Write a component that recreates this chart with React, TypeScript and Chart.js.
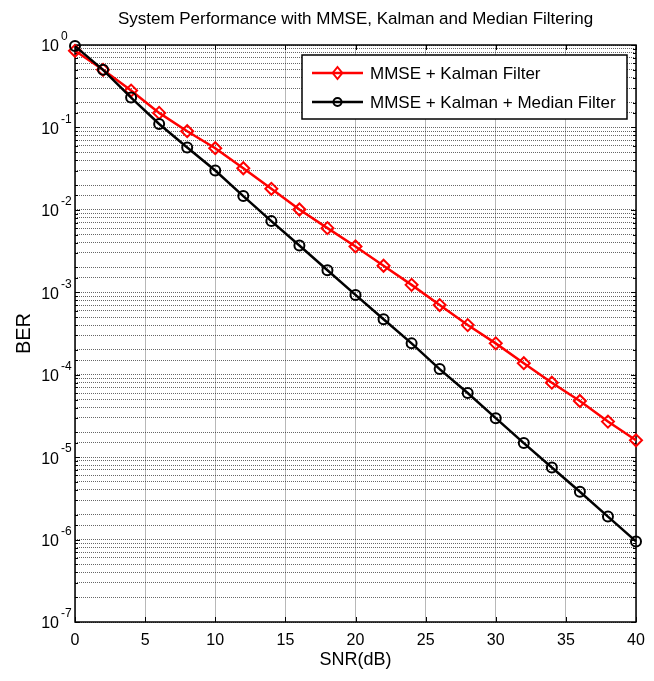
import React, { useEffect, useRef } from 'react';
import { Chart, registerables } from 'chart.js';

Chart.register(...registerables);

// ---- data ----
const snrDb = [0, 2, 4, 6, 8, 10, 12, 14, 16, 18, 20, 22, 24, 26, 28, 30, 32, 34, 36, 38, 40];
const berKalman = [
  0.85, 0.5, 0.28, 0.15, 0.09, 0.056, 0.032, 0.018, 0.0101, 0.006, 0.0036,
  0.0021, 0.00123, 0.0007, 0.0004, 0.00024, 0.000138, 0.00008, 0.000048, 0.000027, 0.000016,
];
const berKalmanMedian = [
  0.97, 0.5, 0.23, 0.11, 0.057, 0.03, 0.0147, 0.0073, 0.0037, 0.00185, 0.00093,
  0.00047, 0.00024, 0.000117, 0.00006, 0.0000297, 0.0000148, 0.0000075, 0.0000038, 0.0000019, 0.00000095,
];
const seriesLabels = ['MMSE + Kalman Filter', 'MMSE + Kalman + Median Filter'];
const titleText = 'System Performance with MMSE, Kalman and Median Filtering';
const xTitle = 'SNR(dB)';
const yTitle = 'BER';
const xTickStep = 5;
const yTickBase = '10';

const FONT = "'Liberation Sans', Arial, Helvetica, sans-serif";

const isDecade = (v: number) => {
  const e = Math.log10(v);
  return Math.abs(e - Math.round(e)) < 1e-9;
};

const boxPlugin = {
  id: 'matlabBox',
  beforeDatasetsDraw(chart: any) {
    const { ctx, chartArea: a, scales } = chart;
    ctx.save();
    ctx.strokeStyle = '#000';
    ctx.lineWidth = 1;
    const ys = scales.y;
    ys.ticks.forEach((t: any) => {
      const py = Math.round(ys.getPixelForValue(t.value)) + 0.5;
      const len = isDecade(t.value) ? 5 : 3;
      ctx.beginPath();
      ctx.moveTo(a.left, py); ctx.lineTo(a.left + len, py);
      ctx.moveTo(a.right, py); ctx.lineTo(a.right - len, py);
      ctx.stroke();
    });
    const xs = scales.x;
    xs.ticks.forEach((t: any) => {
      const px = Math.round(xs.getPixelForValue(t.value)) + 0.5;
      ctx.beginPath();
      ctx.moveTo(px, a.bottom); ctx.lineTo(px, a.bottom - 5);
      ctx.moveTo(px, a.top); ctx.lineTo(px, a.top + 5);
      ctx.stroke();
    });
    ctx.lineWidth = 1.5;
    ctx.strokeRect(a.left, a.top, a.right - a.left, a.bottom - a.top);
    ctx.restore();
  },
  afterDraw(chart: any) {
    // exponents of the "10" tick labels
    const { ctx, chartArea: a, scales } = chart;
    const ys = scales.y;
    ctx.save();
    ctx.fillStyle = '#000';
    ctx.font = `12px ${FONT}`;
    ctx.textAlign = 'left';
    ctx.textBaseline = 'middle';
    ys.ticks.forEach((t: any) => {
      if (!isDecade(t.value)) return;
      const py = ys.getPixelForValue(t.value);
      ctx.fillText(String(Math.round(Math.log10(t.value))), a.left - 14, py - 8);
    });
    ctx.restore();
  },
};

const legendPlugin = {
  id: 'matlabLegend',
  afterDatasetsDraw(chart: any) {
    const { ctx, chartArea: a } = chart;
    const w = 325;
    const h = 64;
    const x0 = a.right - 334;
    const y0 = a.top + 10;
    ctx.save();
    ctx.fillStyle = '#fff';
    ctx.fillRect(x0, y0, w, h);
    ctx.strokeStyle = '#000';
    ctx.lineWidth = 1.5;
    ctx.strokeRect(x0, y0, w, h);
    const rows = [y0 + 18, y0 + 47];
    chart.data.datasets.forEach((ds: any, i: number) => {
      const yy = rows[i];
      ctx.strokeStyle = ds.borderColor;
      ctx.lineWidth = 2.5;
      ctx.beginPath();
      ctx.moveTo(x0 + 10, yy);
      ctx.lineTo(x0 + 61, yy);
      ctx.stroke();
      const cx = x0 + 35.5;
      ctx.lineWidth = 2;
      ctx.beginPath();
      if (ds.pointStyle === 'rectRot') {
        const r = ds.pointRadius;
        ctx.moveTo(cx, yy - r); ctx.lineTo(cx + r * 0.8, yy); ctx.lineTo(cx, yy + r); ctx.lineTo(cx - r * 0.8, yy); ctx.closePath();
      } else {
        ctx.arc(cx, yy, 4, 0, Math.PI * 2);
      }
      ctx.stroke();
      ctx.fillStyle = '#000';
      ctx.font = `17px ${FONT}`;
      ctx.textBaseline = 'middle';
      ctx.textAlign = 'left';
      ctx.fillText(ds.label, x0 + 68, yy + 1);
    });
    ctx.restore();
  },
};

export default function App() {
  const ref = useRef<HTMLCanvasElement>(null);
  useEffect(() => {
    const kalmanPts = snrDb.map((x, i) => ({ x, y: berKalman[i] }));
    const medianPts = snrDb.map((x, i) => ({ x, y: berKalmanMedian[i] }));
    const chart = new Chart(ref.current as HTMLCanvasElement, {
      type: 'line',
      data: {
        datasets: [
          {
            label: seriesLabels[0],
            data: kalmanPts,
            borderColor: '#ff0000',
            backgroundColor: 'rgba(0,0,0,0)',
            borderWidth: 2.5,
            pointStyle: 'rectRot',
            pointRadius: 6,
            pointBorderWidth: 2,
            pointBackgroundColor: 'rgba(0,0,0,0)',
            pointBorderColor: '#ff0000',
            clip: false,
            order: 1,
            tension: 0,
          },
          {
            label: seriesLabels[1],
            data: medianPts,
            borderColor: '#000000',
            backgroundColor: 'rgba(0,0,0,0)',
            borderWidth: 2.5,
            pointStyle: 'circle',
            pointRadius: 5,
            pointBorderWidth: 2,
            pointBackgroundColor: 'rgba(0,0,0,0)',
            pointBorderColor: '#000000',
            clip: false,
            order: 0,
            tension: 0,
          },
        ],
      },
      options: {
        animation: false,
        responsive: true,
        maintainAspectRatio: false,
        layout: { padding: { left: 0, right: 18, top: 0, bottom: 0 } },
        plugins: {
          legend: { display: false },
          tooltip: { enabled: false },
          title: {
            display: true,
            fullSize: false,
            text: titleText,
            color: '#000',
            font: { family: FONT, size: 17, weight: 'normal' },
            padding: { top: 9, bottom: 15.6 },
          },
        },
        scales: {
          x: {
            type: 'linear',
            min: 0,
            max: 40,
            afterFit: (s: any) => { s.height = 59; },
            ticks: {
              stepSize: xTickStep,
              color: '#000',
              font: { family: FONT, size: 16 },
              padding: 9,
              maxRotation: 0,
            },
            grid: { color: '#b8b8b8', lineWidth: 1, drawTicks: false },
            border: { display: false },
            title: {
              display: true,
              text: xTitle,
              color: '#000',
              font: { family: FONT, size: 18 },
              padding: { top: 2, bottom: 10 },
            },
          },
          y: {
            type: 'logarithmic',
            min: 1e-7,
            max: 1,
            afterFit: (s: any) => { s.width = 75; },
            ticks: {
              autoSkip: false,
              color: '#000',
              font: { family: FONT, size: 16 },
              padding: 16,
              labelOffset: 2,
              callback: (v: any) => (isDecade(Number(v)) ? yTickBase : ''),
            },
            grid: { color: 'rgba(0,0,0,0.6)', lineWidth: 1, drawTicks: false },
            border: { display: false, dash: [1, 1] },
            title: {
              display: true,
              text: yTitle,
              color: '#000',
              font: { family: FONT, size: 20 },
              padding: { top: 12, bottom: 0 },
            },
          },
        },
      },
      plugins: [boxPlugin, legendPlugin],
    });
    return () => chart.destroy();
  }, []);
  return (
    <div style={{ position: 'absolute', left: 0, top: 0, width: 654, height: 681, background: '#fff' }}>
      <canvas ref={ref} />
    </div>
  );
}
